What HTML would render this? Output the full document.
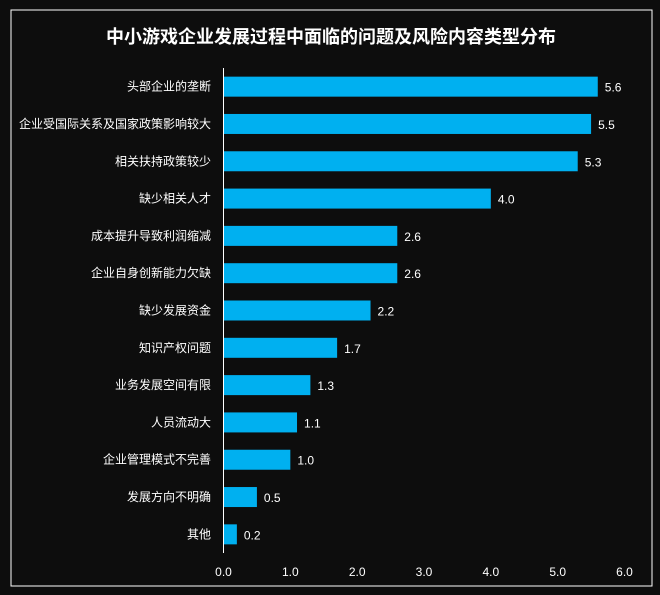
<!DOCTYPE html>
<html><head><meta charset="utf-8"><style>
body{margin:0;background:#0d0d0d;}
svg{display:block;font-family:"Liberation Sans","Noto Sans CJK SC",sans-serif;}
</style></head><body>
<svg id="chart" width="660" height="595">
<rect x="0" y="0" width="660" height="595" fill="#0d0d0d"/>
<rect x="11" y="10" width="641" height="576" fill="none" stroke="#ffffff" stroke-width="1"/>
<text x="331" y="43" fill="#ffffff" font-size="18" font-weight="bold" text-anchor="middle">中小游戏企业发展过程中面临的问题及风险内容类型分布</text>
<g id="bars"></g>
<line x1="223.5" y1="68" x2="223.5" y2="553" stroke="#ffffff" stroke-width="1"/>
<g id="ticks"></g>
</svg>
<script>
const categories=["头部企业的垄断","企业受国际关系及国家政策影响较大","相关扶持政策较少","缺少相关人才","成本提升导致利润缩减","企业自身创新能力欠缺","缺少发展资金","知识产权问题","业务发展空间有限","人员流动大","企业管理模式不完善","发展方向不明确","其他"];
const values=[5.6,5.5,5.3,4.0,2.6,2.6,2.2,1.7,1.3,1.1,1.0,0.5,0.2];
const tickValues=[0,1,2,3,4,5,6];
const NS="http://www.w3.org/2000/svg";
const x0=223.5,x1=624.5,xMax=6,yTop=68,yBot=553;
const xs=v=>x0+(v/xMax)*(x1-x0);
const band=(yBot-yTop)/categories.length;
const ys=i=>yTop+band*i+band/2;
const bars=document.getElementById('bars');
categories.forEach((c,i)=>{
  const r=document.createElementNS(NS,'rect');
  r.setAttribute('x',x0);r.setAttribute('y',ys(i)-10);
  r.setAttribute('width',xs(values[i])-x0);r.setAttribute('height',20);
  r.setAttribute('fill','#00b0f0');
  
  
  bars.appendChild(r);
  const l=document.createElementNS(NS,'text');
  l.setAttribute('x',211);l.setAttribute('y',ys(i)+4);
  l.setAttribute('fill','#ffffff');l.setAttribute('font-size','12');l.setAttribute('text-anchor','end');
  l.textContent=c;
  
  
  bars.appendChild(l);
  const v=document.createElementNS(NS,'text');
  v.setAttribute('x',xs(values[i])+7);v.setAttribute('y',ys(i)+5);
  v.setAttribute('fill','#ffffff');v.setAttribute('font-size','12');
  v.textContent=values[i].toFixed(1);
  
  
  bars.appendChild(v);
});
const ticks=document.getElementById('ticks');
tickValues.forEach(t=>{
  const tx=document.createElementNS(NS,'text');
  tx.setAttribute('x',xs(t));tx.setAttribute('y',576);
  tx.setAttribute('fill','#ffffff');tx.setAttribute('font-size','12');tx.setAttribute('text-anchor','middle');
  tx.textContent=t.toFixed(1);
  
  
  ticks.appendChild(tx);
});
</script>
</body></html>
